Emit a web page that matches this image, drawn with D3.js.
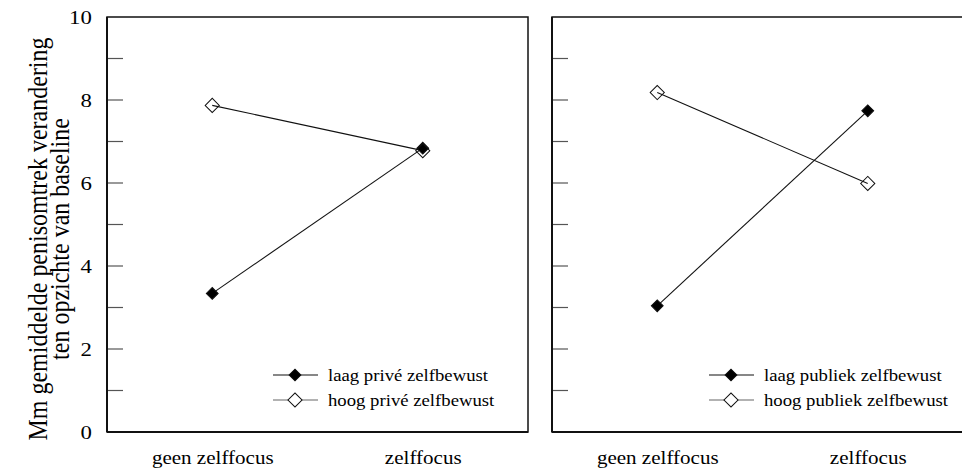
<!DOCTYPE html>
<html lang="nl">
<head>
<meta charset="UTF-8">
<title>Penisomtrek verandering</title>
<script src="https://d3js.org/d3.v7.min.js"></script>
<style>
  body { margin: 0; background: white; }
  svg { display: block; }
  svg text { font-family: "Liberation Serif", "Times New Roman", serif; }
</style>
</head>
<body>
<div id="chart"></div>
<script>
// data
const conditions = ['geen zelffocus', 'zelffocus'];
const leftLaag = [3.34, 6.84];
const leftHoog = [7.87, 6.78];
const rightLaag = [3.04, 7.74];
const rightHoog = [8.18, 5.99];
const leftNames = ['laag privé zelfbewust', 'hoog privé zelfbewust'];
const rightNames = ['laag publiek zelfbewust', 'hoog publiek zelfbewust'];
const yTicks = [0, 2, 4, 6, 8, 10];
const yMinor = [1, 3, 5, 7, 9];
const yTitle = ['Mm gemiddelde penisomtrek verandering', 'ten opzichte van baseline'];

const W = 962, H = 472;
const plotTop = 17, plotBottom = 432, panelW = 421;
const stretch = 1.17; // the original text is a bit wider than it is tall

const svg = d3.select('#chart').append('svg')
  .attr('width', W).attr('height', H);

const y = d3.scaleLinear().domain([0, 10]).range([plotBottom, plotTop]);

// y tick labels (only on the left)
svg.append('g')
  .attr('transform', 'translate(107,0)')
  .call(d3.axisLeft(y).tickValues(yTicks).tickSize(0).tickPadding(13))
  .call(g => g.select('.domain').remove())
  .selectAll('text')
  .attr('transform', `scale(${stretch},1)`)
  .attr('font-size', 19.5)
  .attr('fill', '#000');

// y title
const yt = svg.append('text')
  .attr('transform', `translate(47,239) scale(${stretch},1) rotate(-90)`)
  .attr('text-anchor', 'middle')
  .attr('font-size', 24)
  .attr('fill', '#000');
yTitle.forEach((t, i) => {
  yt.append('tspan').attr('x', 0).attr('dy', i === 0 ? 0 : 19).text(t);
});

function panel(x0, laag, hoog, names, legendX) {
  const g = svg.append('g');
  const x = d3.scalePoint().domain(conditions).range([x0, x0 + panelW]).padding(0.5);

  // tick marks inside the frame
  g.selectAll('.tick-mark')
    .data(yTicks.concat(yMinor).filter(v => v > 0 && v < 10))
    .enter().append('line')
    .attr('x1', x0).attr('x2', x0 + 16)
    .attr('y1', d => y(d)).attr('y2', d => y(d))
    .attr('stroke', '#555').attr('stroke-width', 1.2);

  // frame
  g.append('rect')
    .attr('x', x0).attr('y', plotTop)
    .attr('width', panelW).attr('height', plotBottom - plotTop)
    .attr('fill', 'none').attr('stroke', '#111').attr('stroke-width', 1.5);
  g.append('line')
    .attr('x1', x0).attr('x2', x0).attr('y1', plotTop).attr('y2', plotBottom)
    .attr('stroke', '#111').attr('stroke-width', 2);
  g.append('line')
    .attr('x1', x0).attr('x2', x0 + panelW).attr('y1', plotBottom).attr('y2', plotBottom)
    .attr('stroke', '#111').attr('stroke-width', 2);

  // x labels
  g.append('g')
    .attr('transform', `translate(0,${plotBottom})`)
    .call(d3.axisBottom(x).tickSize(0).tickPadding(19))
    .call(a => a.select('.domain').remove())
    .selectAll('text')
    .attr('transform', `scale(${stretch},1)`)
    .attr('font-size', 18)
    .attr('fill', '#000');

  const line = d3.line().x((d, i) => x(conditions[i])).y(d => y(d));
  const series = [
    { vals: laag, fill: '#000', size: 70 },
    { vals: hoog, fill: 'none', size: 100 }
  ];
  series.forEach(s => {
    g.append('path').datum(s.vals)
      .attr('d', line).attr('fill', 'none')
      .attr('stroke', '#111').attr('stroke-width', 1.1);
  });
  series.forEach(s => {
    g.selectAll(null).data(s.vals).enter().append('path')
      .attr('d', d3.symbol(d3.symbolSquare, s.size))
      .attr('transform', (d, i) => `translate(${x(conditions[i])},${y(d)}) rotate(45)`)
      .attr('fill', s.fill).attr('stroke', '#111').attr('stroke-width', 1);
  });

  // legend
  const rows = [375, 400];
  series.forEach((s, i) => {
    const lg = g.append('g').attr('transform', `translate(${legendX},${rows[i]})`);
    lg.append('line').attr('x1', 0).attr('x2', 45)
      .attr('stroke', i === 0 ? '#111' : '#666').attr('stroke-width', 1.2);
    lg.append('path')
      .attr('d', d3.symbol(d3.symbolSquare, s.size))
      .attr('transform', 'translate(22,0) rotate(45)')
      .attr('fill', s.fill === 'none' ? '#fff' : s.fill)
      .attr('stroke', '#111').attr('stroke-width', 1);
    lg.append('text')
      .attr('transform', `translate(55,5.5) scale(${stretch},1)`)
      .attr('font-size', 16).attr('fill', '#000')
      .text(names[i]);
  });
}

panel(107, leftLaag, leftHoog, leftNames, 273);
panel(552, rightLaag, rightHoog, rightNames, 709);
</script>
</body>
</html>
